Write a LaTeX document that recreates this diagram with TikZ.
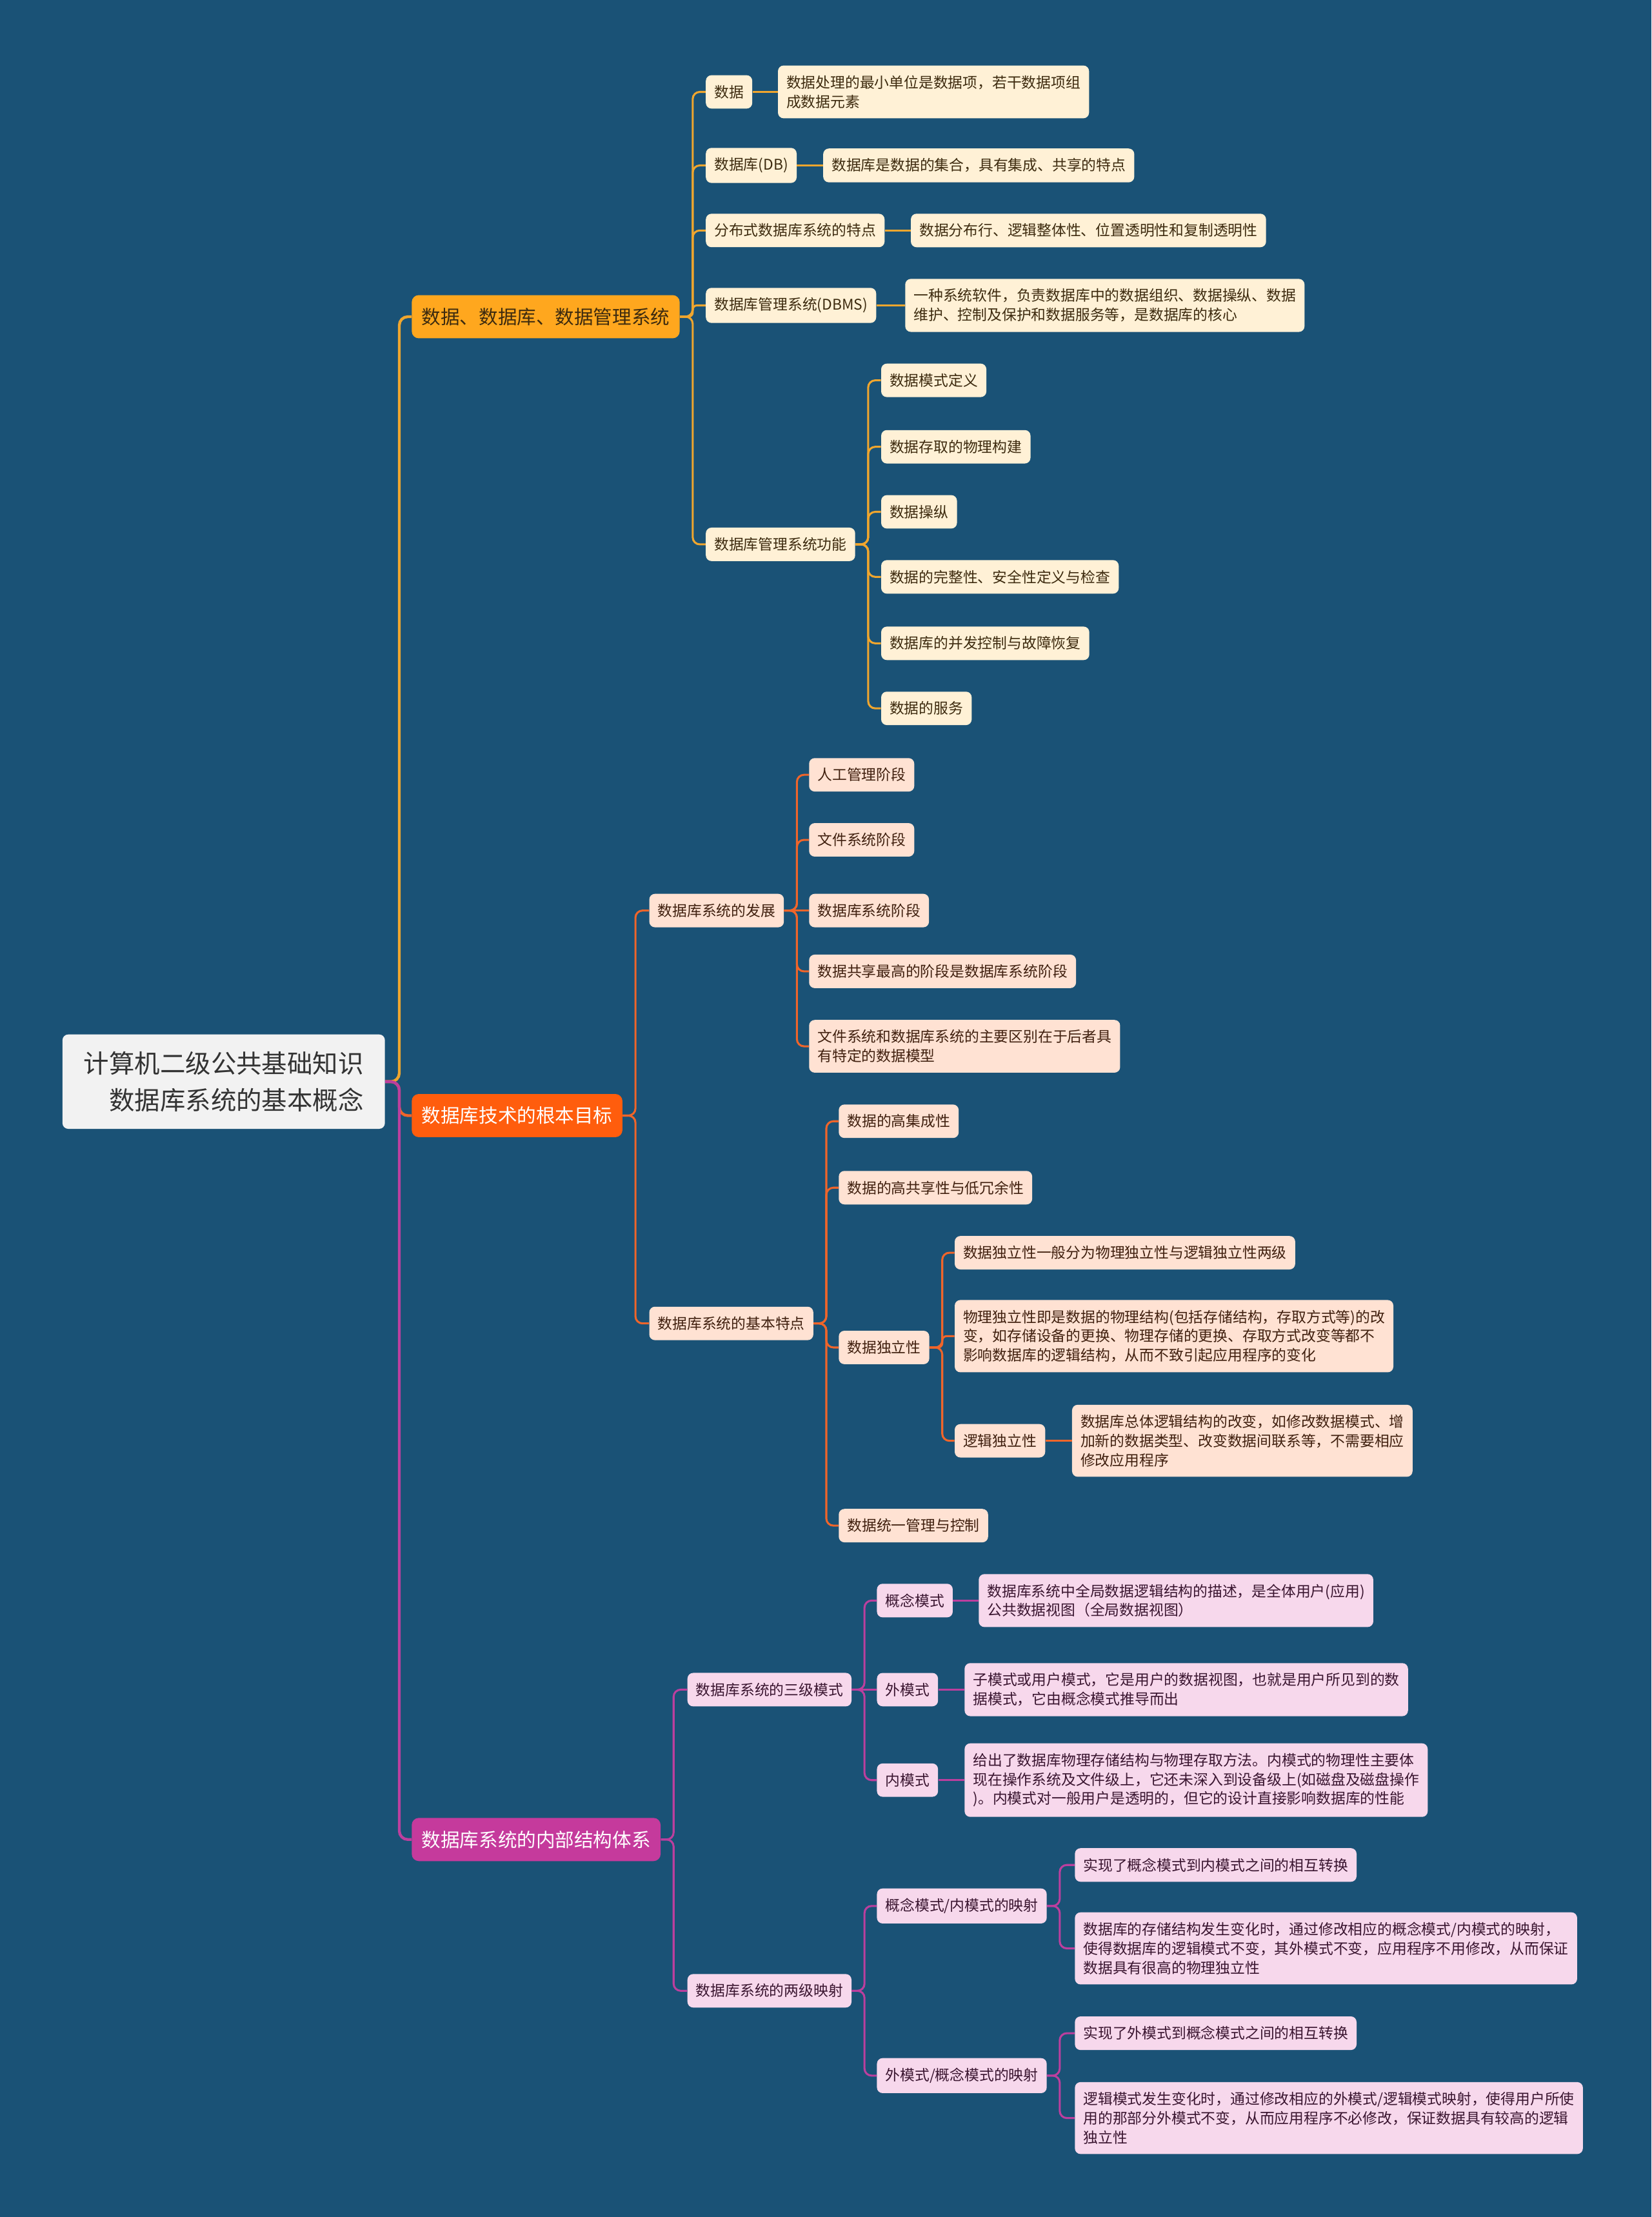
\documentclass[tikz,border=0pt]{standalone}
\usepackage{fontspec}
\setmainfont{Noto Sans CJK SC}
\usepackage{xcolor}
\definecolor{bg}{HTML}{1A5276}
\definecolor{rootfill}{HTML}{F2F2F2}
\definecolor{roottext}{HTML}{333333}
\definecolor{gold}{HTML}{F0A62E}
\definecolor{goldfill}{HTML}{FFA71E}
\definecolor{cream}{HTML}{FFF1D6}
\definecolor{goldtext}{HTML}{3D2B0F}
\definecolor{tang}{HTML}{F0652A}
\definecolor{tangfill}{HTML}{FF5D0D}
\definecolor{peach}{HTML}{FFE2D3}
\definecolor{tangtext}{HTML}{40200F}
\definecolor{plum}{HTML}{BC3F9E}
\definecolor{plumfill}{HTML}{C53A9C}
\definecolor{blush}{HTML}{F7D8EC}
\definecolor{plumtext}{HTML}{3A1530}

\begin{document}
\begin{tikzpicture}[x=1pt,y=-1pt,
  every node/.style={anchor=west,rounded corners=4pt,align=left},
  root/.style={fill=rootfill,text=roottext,align=right,inner xsep=15pt,inner ysep=12pt,font=\fontsize{18}{26}\selectfont},
  topic/.style={inner xsep=7pt,inner ysep=9pt,rounded corners=5pt,font=\fontsize{13.5}{16}\selectfont},
  leaf/.style={inner xsep=6pt,inner ysep=7pt,font=\fontsize{10.4}{13.6}\selectfont},
  goldleaf/.style={leaf,fill=cream,text=goldtext},
  tangleaf/.style={leaf,fill=peach,text=tangtext},
  plumleaf/.style={leaf,fill=blush,text=plumtext},
  link/.style={line width=1.4pt,rounded corners=5pt},
  trunk/.style={line width=2pt,rounded corners=6pt}]

  \fill[bg] (0,0) rectangle (1168,1568);
  \useasboundingbox (0,0) rectangle (1168,1568);

  % Root
  \node[root] (root) at (44,765) {计算机二级公共基础知识\\数据库系统的基本概念};

  % Branch 1: data, database, DBMS
  \node[topic,fill=goldfill,text=goldtext] (b1) at (291,224) {数据、数据库、数据管理系统};
  \node[goldleaf] (a1) at (499,65) {数据};
  \node[goldleaf] (a1d) at (550,65) {数据处理的最小单位是数据项，若干数据项组\\成数据元素};
  \node[goldleaf] (a2) at (499,117) {数据库(DB)};
  \node[goldleaf] (a2d) at (582,117) {数据库是数据的集合，具有集成、共享的特点};
  \node[goldleaf] (a3) at (499,163) {分布式数据库系统的特点};
  \node[goldleaf] (a3d) at (644,163) {数据分布行、逻辑整体性、位置透明性和复制透明性};
  \node[goldleaf] (a4) at (499,216) {数据库管理系统(DBMS)};
  \node[goldleaf] (a4d) at (640,216) {一种系统软件，负责数据库中的数据组织、数据操纵、数据\\维护、控制及保护和数据服务等，是数据库的核心};
  \node[goldleaf] (a5) at (499,385) {数据库管理系统功能};
  \node[goldleaf] (f1) at (623,269) {数据模式定义};
  \node[goldleaf] (f2) at (623,316) {数据存取的物理构建};
  \node[goldleaf] (f3) at (623,362) {数据操纵};
  \node[goldleaf] (f4) at (623,408) {数据的完整性、安全性定义与检查};
  \node[goldleaf] (f5) at (623,455) {数据库的并发控制与故障恢复};
  \node[goldleaf] (f6) at (623,501) {数据的服务};

  % Branch 2: basic goal of database technology
  \node[topic,fill=tangfill,text=white] (b2) at (291,789) {数据库技术的根本目标};
  \node[tangleaf] (c1) at (459,644) {数据库系统的发展};
  \node[tangleaf] (g1) at (572,548) {人工管理阶段};
  \node[tangleaf] (g2) at (572,594) {文件系统阶段};
  \node[tangleaf] (g3) at (572,644) {数据库系统阶段};
  \node[tangleaf] (g4) at (572,687) {数据共享最高的阶段是数据库系统阶段};
  \node[tangleaf] (g5) at (572,740) {文件系统和数据库系统的主要区别在于后者具\\有特定的数据模型};
  \node[tangleaf] (c2) at (459,936) {数据库系统的基本特点};
  \node[tangleaf] (h1) at (593,793) {数据的高集成性};
  \node[tangleaf] (h2) at (593,840) {数据的高共享性与低冗余性};
  \node[tangleaf] (h3) at (593,953) {数据独立性};
  \node[tangleaf] (h4) at (593,1079) {数据统一管理与控制};
  \node[tangleaf] (k1) at (675,886) {数据独立性一般分为物理独立性与逻辑独立性两级};
  \node[tangleaf] (k2) at (675,945) {物理独立性即是数据的物理结构(包括存储结构，存取方式等)的改\\变，如存储设备的更换、物理存储的更换、存取方式改变等都不\\影响数据库的逻辑结构，从而不致引起应用程序的变化};
  \node[tangleaf] (k3) at (675,1019) {逻辑独立性};
  \node[tangleaf] (k3d) at (758,1019) {数据库总体逻辑结构的改变，如修改数据模式、增\\加新的数据类型、改变数据间联系等，不需要相应\\修改应用程序};

  % Branch 3: internal structure
  \node[topic,fill=plumfill,text=white] (b3) at (291,1301) {数据库系统的内部结构体系};
  \node[plumleaf] (e1) at (486,1195) {数据库系统的三级模式};
  \node[plumleaf] (m1) at (620,1132) {概念模式};
  \node[plumleaf] (m1d) at (692,1132) {数据库系统中全局数据逻辑结构的描述，是全体用户(应用)\\公共数据视图（全局数据视图）};
  \node[plumleaf] (m2) at (620,1195) {外模式};
  \node[plumleaf] (m2d) at (682,1195) {子模式或用户模式，它是用户的数据视图，也就是用户所见到的数\\据模式，它由概念模式推导而出};
  \node[plumleaf] (m3) at (620,1259) {内模式};
  \node[plumleaf] (m3d) at (682,1259) {给出了数据库物理存储结构与物理存取方法。内模式的物理性主要体\\现在操作系统及文件级上，它还未深入到设备级上(如磁盘及磁盘操作\\)。内模式对一般用户是透明的，但它的设计直接影响数据库的性能};
  \node[plumleaf] (e2) at (486,1408) {数据库系统的两级映射};
  \node[plumleaf] (n1) at (620,1348) {概念模式/内模式的映射};
  \node[plumleaf] (p1) at (760,1319) {实现了概念模式到内模式之间的相互转换};
  \node[plumleaf] (p2) at (760,1378) {数据库的存储结构发生变化时，通过修改相应的概念模式/内模式的映射，\\使得数据库的逻辑模式不变，其外模式不变，应用程序不用修改，从而保证\\数据具有很高的物理独立性};
  \node[plumleaf] (n2) at (620,1468) {外模式/概念模式的映射};
  \node[plumleaf] (q1) at (760,1438) {实现了外模式到概念模式之间的相互转换};
  \node[plumleaf] (q2) at (760,1498) {逻辑模式发生变化时，通过修改相应的外模式/逻辑模式映射，使得用户所使\\用的那部分外模式不变，从而应用程序不必修改，保证数据具有较高的逻辑\\独立性};

  % Connectors, branch 1
  \foreach \src/\dst in {b1/a1,b1/a2,b1/a3,b1/a5,a5/f1,a5/f2,a5/f3,a5/f4,a5/f5,a5/f6}
    \draw[link,gold] (\src.east) -- ++(9,0) |- (\dst.west);
  \draw[link,gold,rounded corners=3pt] (b1.east) -- ++(9,0) |- (a4.west);
  \foreach \src/\dst in {a1/a1d,a2/a2d,a3/a3d,a4/a4d}
    \draw[link,gold] (\src.east) -- (\dst.west);

  % Connectors, branch 2
  \foreach \src/\dst in {b2/c1,b2/c2,c1/g1,c1/g2,c1/g4,c1/g5,c2/h1,c2/h2,c2/h3,c2/h4,h3/k1,h3/k3}
    \draw[link,tang] (\src.east) -- ++(9,0) |- (\dst.west);
  \draw[link,tang,rounded corners=3pt] (h3.east) -- ++(9,0) |- (k2.west);
  \foreach \src/\dst in {c1/g3,k3/k3d}
    \draw[link,tang] (\src.east) -- (\dst.west);

  % Connectors, branch 3
  \foreach \src/\dst in {b3/e1,b3/e2,e1/m1,e1/m3,e2/n1,e2/n2,n1/p1,n1/p2,n2/q1,n2/q2}
    \draw[link,plum] (\src.east) -- ++(9,0) |- (\dst.west);
  \foreach \src/\dst in {e1/m2,m1/m1d,m2/m2d,m3/m3d}
    \draw[link,plum] (\src.east) -- (\dst.west);

  % Trunk
  \draw[trunk,gold] (root.east) -- ++(10,0) |- (b1.west);
  \draw[trunk,tang] (root.east) -- ++(10,0) |- (b2.west);
  \draw[trunk,plum] (root.east) -- ++(10,0) |- (b3.west);
\end{tikzpicture}
\end{document}
